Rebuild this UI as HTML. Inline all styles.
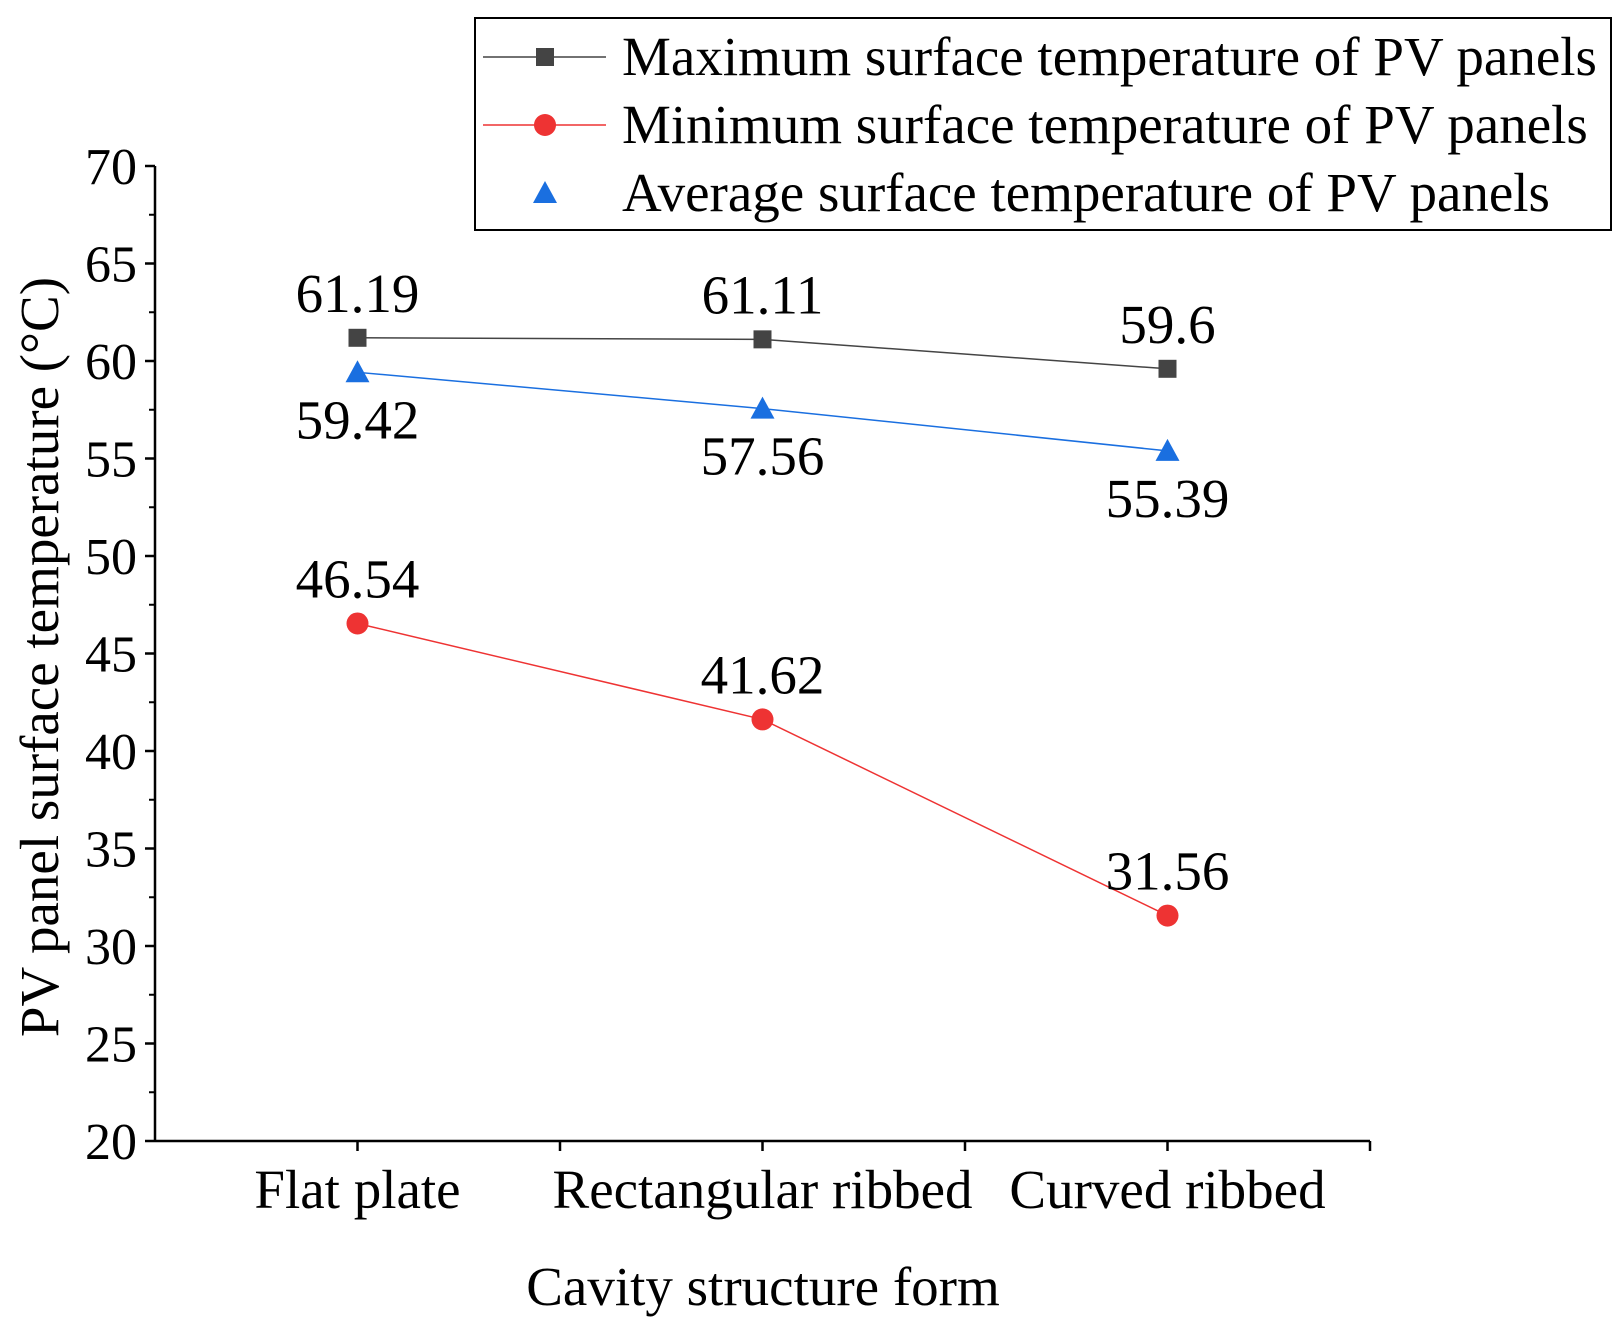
<!DOCTYPE html>
<html><head><meta charset="utf-8"><style>
body{margin:0;background:#fff}
svg{display:block;font-family:"Liberation Serif",serif}
</style></head><body>
<svg id="chart" width="1622" height="1330" viewBox="0 0 1622 1330">
<g id="axes"></g><g id="series"></g><g id="legend"></g>
</svg>
<script>
const categories = ["Flat plate","Rectangular ribbed","Curved ribbed"];
const maxVals = [61.19, 61.11, 59.6];
const minVals = [46.54, 41.62, 31.56];
const avgVals = [59.42, 57.56, 55.39];
const maxLabels = ["61.19","61.11","59.6"];
const minLabels = ["46.54","41.62","31.56"];
const avgLabels = ["59.42","57.56","55.39"];
const yTicks = [20,25,30,35,40,45,50,55,60,65,70];

const NS="http://www.w3.org/2000/svg";
const L=155,R=1370,T=166,B=1141,yMin=20,yMax=70;
const x=i=>L+(i+0.5)*(R-L)/categories.length;
const y=v=>B-(v-yMin)*(B-T)/(yMax-yMin);
function mk(tag,attrs,parent,txt){const e=document.createElementNS(NS,tag);for(const k in attrs)e.setAttribute(k,attrs[k]);if(txt!==undefined)e.textContent=txt;parent.appendChild(e);return e;}
const ax=document.getElementById('axes'),se=document.getElementById('series'),lg=document.getElementById('legend');

let e=mk('line',{x1:L,y1:T,x2:L,y2:B,stroke:'#000','stroke-width':2.5},ax);

e=mk('line',{x1:L,y1:B,x2:R,y2:B,stroke:'#000','stroke-width':2.5},ax);

yTicks.forEach(v=>{
  mk('line',{x1:L-10,y1:y(v),x2:L,y2:y(v),stroke:'#000','stroke-width':2.5},ax);
  if(v<yMax) mk('line',{x1:L-6,y1:y(v+2.5),x2:L,y2:y(v+2.5),stroke:'#000','stroke-width':2},ax);
  const t=mk('text',{x:L-18,y:y(v)+18,'text-anchor':'end','font-size':52},ax,String(v));
  
});
for(let i=1;i<=categories.length*2;i++){
  const xx=L+i*(R-L)/(categories.length*2);
  mk('line',{x1:xx,y1:B,x2:xx,y2:B+10,stroke:'#000','stroke-width':2.5},ax);
}
categories.forEach((c,i)=>{
  const t=mk('text',{x:x(i),y:1208,'text-anchor':'middle','font-size':55},ax,c);
  
});
e=mk('text',{x:763,y:1305,'text-anchor':'middle','font-size':55},ax,'Cavity structure form');

e=mk('text',{x:0,y:0,'text-anchor':'middle','font-size':55,transform:'translate(58,657) rotate(-90)'},ax,'PV panel surface temperature (°C)');


function marker(kind,cx,cy,col,parent){
  if(kind==='sq') return mk('rect',{x:cx-9,y:cy-9,width:18,height:18,fill:col},parent);
  if(kind==='ci') return mk('circle',{cx:cx,cy:cy,r:11,fill:col},parent);
  return mk('polygon',{points:`${cx},${cy-12} ${cx+12},${cy+10} ${cx-12},${cy+10}`,fill:col},parent);
}
function series(vals,labels,col,kind,off,name){
  const pts=vals.map((v,i)=>x(i)+','+y(v)).join(' ');
  const p=mk('polyline',{points:pts,fill:'none',stroke:col,'stroke-width':1.5},se);
  
  vals.forEach((v,i)=>{
    const m=marker(kind,x(i),y(v),col,se);
    
    const t=mk('text',{x:x(i),y:y(v)+off+18,'text-anchor':'middle','font-size':55},se,labels[i]);
    
  });
}
series(maxVals,maxLabels,'#444444','sq',-44,'max-temp');
series(avgVals,avgLabels,'#1a6fe0','tri',48,'avg-temp');
series(minVals,minLabels,'#ee3333','ci',-44,'min-temp');

e=mk('rect',{x:475,y:18,width:1136,height:212,fill:'#fff',stroke:'#000','stroke-width':2},lg);

const leg=[['Maximum surface temperature of PV panels','#444444','sq',true],['Minimum surface temperature of PV panels','#ee3333','ci',true],['Average surface temperature of PV panels','#1a6fe0','tri',false]];
leg.forEach((l,i)=>{
  const yy=57+i*68;
  const g=mk('g',{},lg);
  
  if(l[3]) mk('line',{x1:483,y1:yy,x2:606,y2:yy,stroke:l[1],'stroke-width':1.5},g);
  marker(l[2],545,yy,l[1],g);
  mk('text',{x:622,y:yy+18,'font-size':55},g,l[0]);
});
</script>
</body></html>
